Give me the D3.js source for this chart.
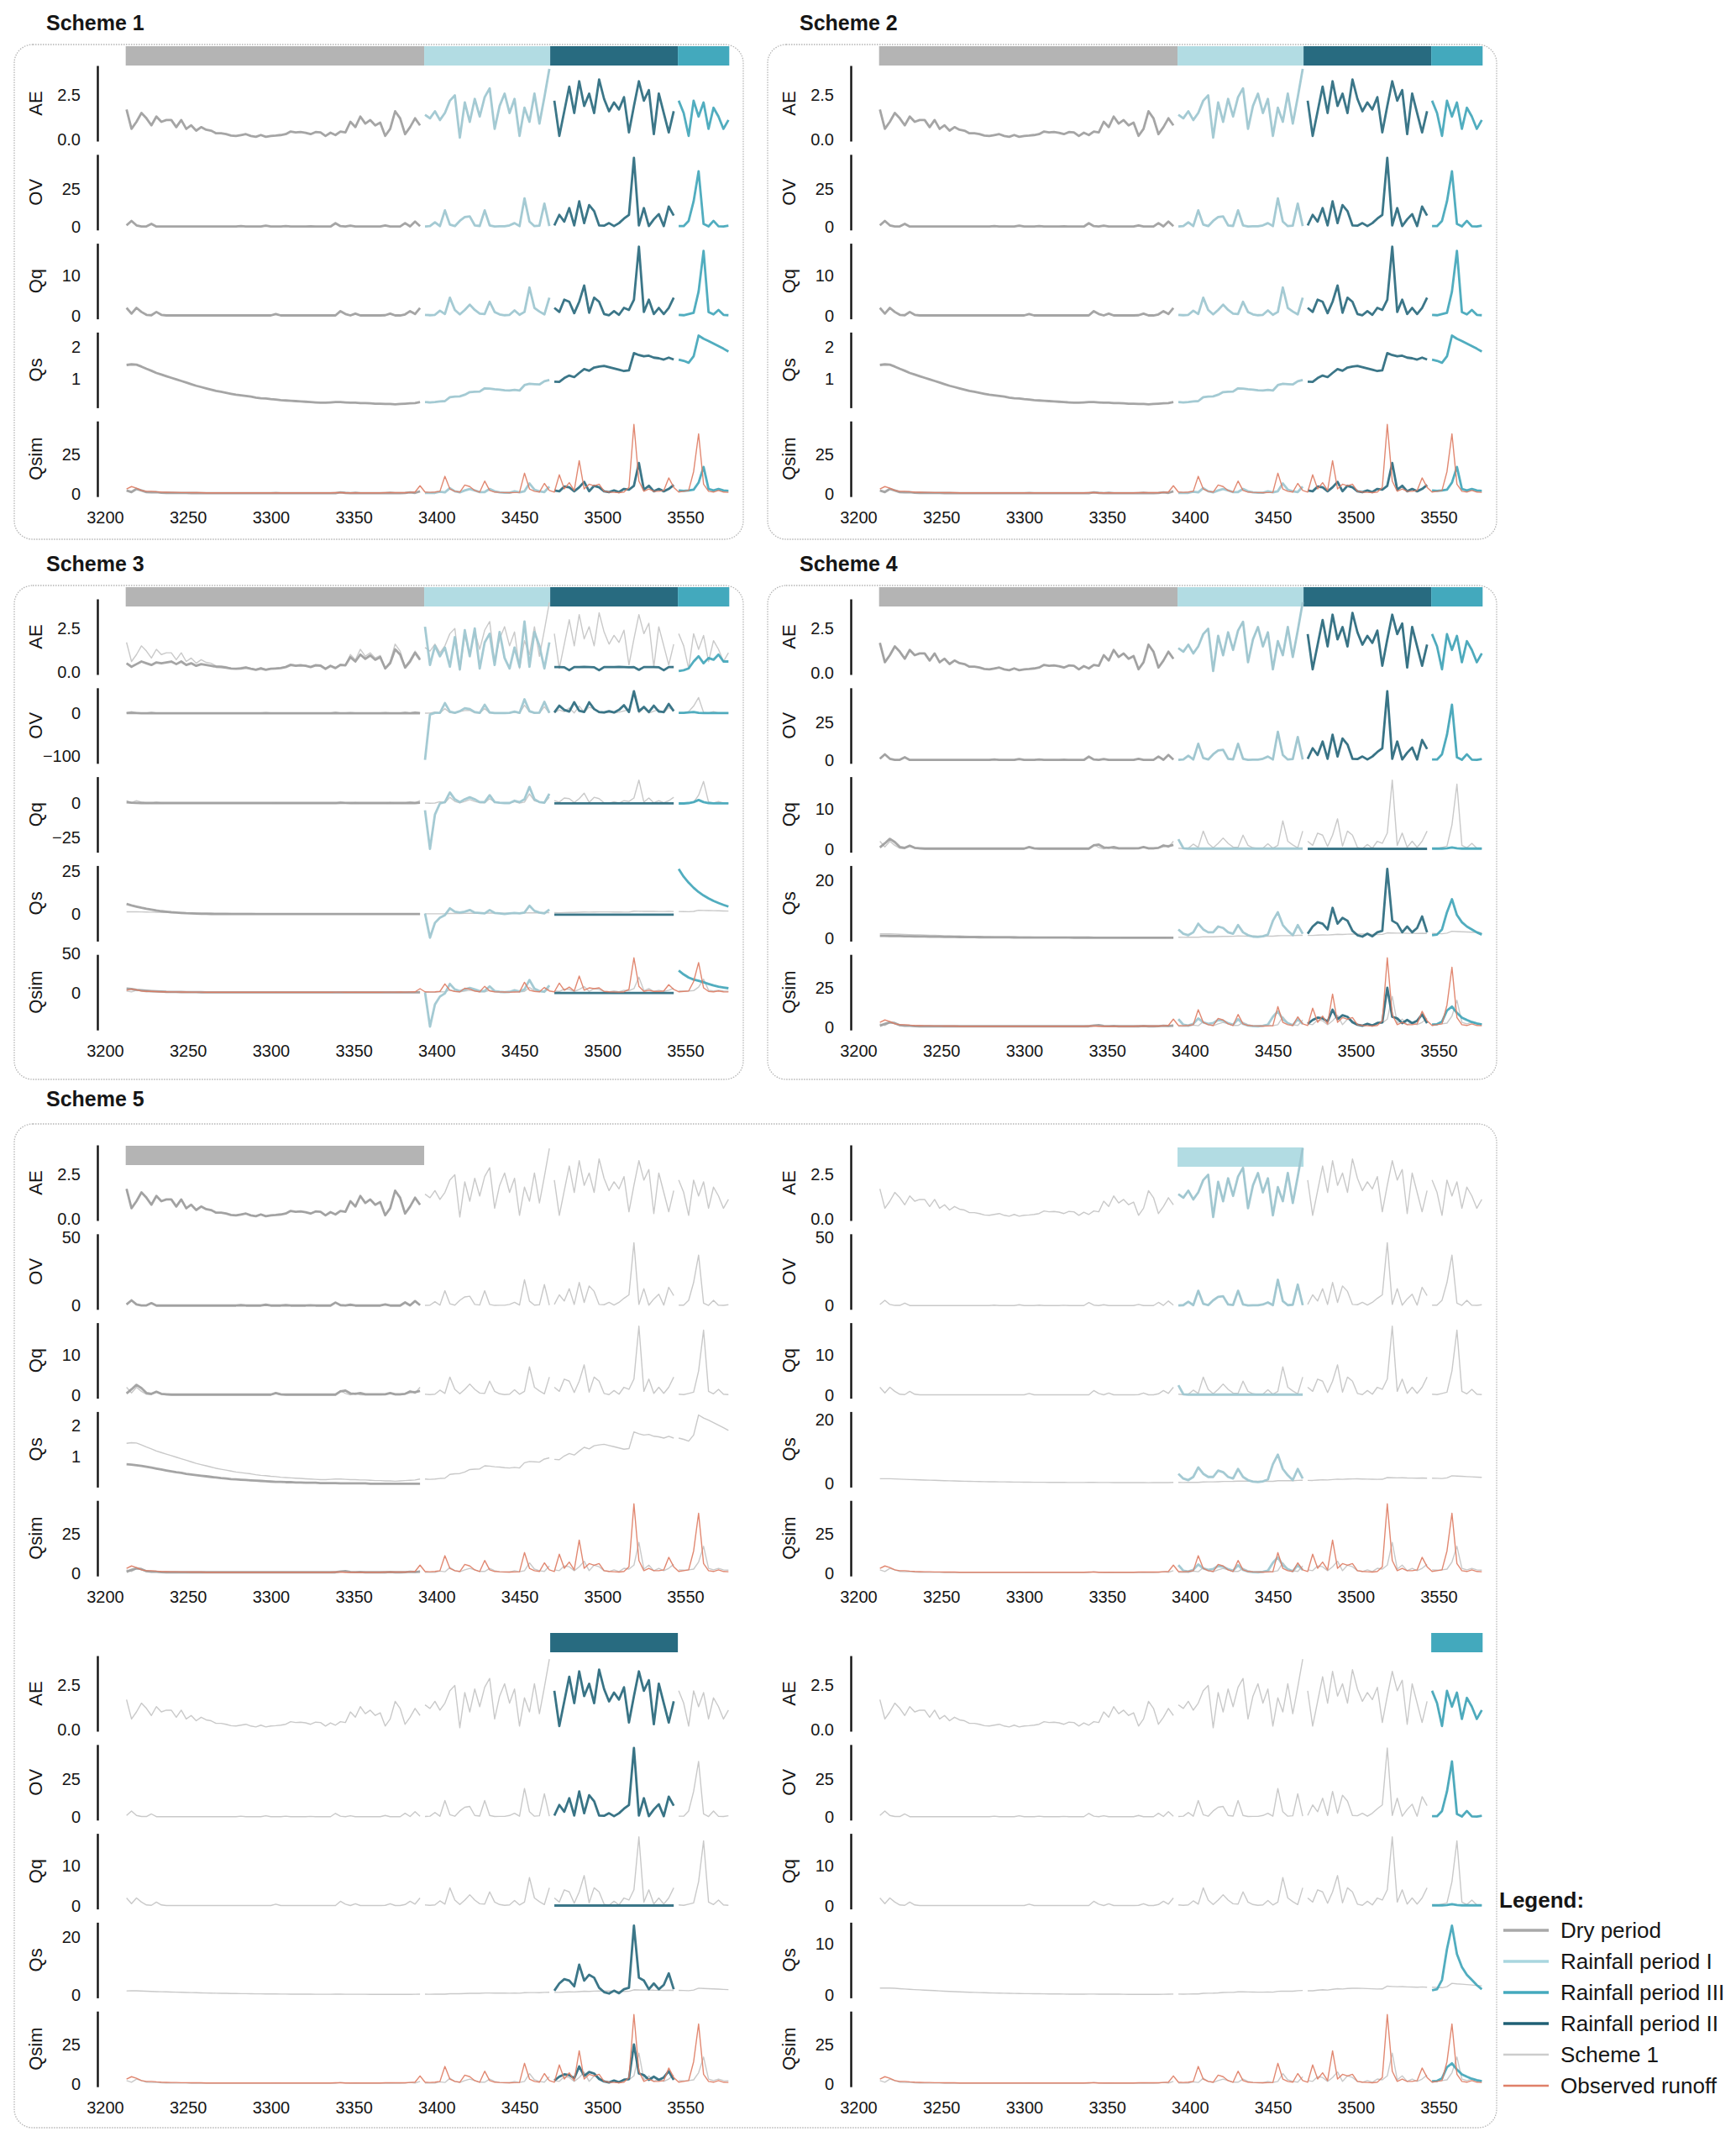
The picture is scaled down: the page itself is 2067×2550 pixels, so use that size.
<!DOCTYPE html>
<html>
<head>
<meta charset="utf-8">
<script src="https://cdn.jsdelivr.net/npm/d3@7"></script>
<style>
  body { margin: 0; background: #fff; }
  text { font-family: "Liberation Sans", Arial, sans-serif; fill: #161616; }
</style>
</head>
<body>
<div id="chart"></div>
<script>
// --- DATOS (muestreo cada 3 días) ---
const DAYS = d3.range(3213, 3577, 3);          // 122 puntos
const PERIOD_NAMES = ["Dry period", "Rainfall period I", "Rainfall period II", "Rainfall period III"];
const PERIOD_EDGES = [3212.5, 3392.5, 3468.5, 3545.5, 3576.5];
const X_TICKS = [3200, 3250, 3300, 3350, 3400, 3450, 3500, 3550];
const VAR_NAMES = ["AE", "OV", "Qq", "Qs", "Qsim"];

// Scheme 1 (también Scheme 2)
const AE1 = [1.7,0.6,1.0,1.5,1.2,0.8,1.3,1.0,1.1,1.1,
  0.7,1.1,0.6,0.8,0.5,0.7,0.55,0.5,0.35,0.35,
  0.3,0.22,0.2,0.25,0.3,0.2,0.15,0.25,0.15,0.2,
  0.22,0.25,0.3,0.45,0.4,0.42,0.38,0.3,0.42,0.4,
  0.2,0.38,0.25,0.45,0.4,1.0,0.7,1.3,0.9,1.1,
  0.8,0.95,0.2,0.6,1.6,1.2,0.3,0.7,1.2,0.8,
  1.4,1.2,1.6,1.1,1.5,2.2,2.5,0.1,2.1,1.0,
  2.3,1.3,2.4,2.9,0.6,1.9,2.6,1.5,2.3,0.2,
  1.8,1.0,2.6,0.9,2.4,4.0,
  2.2,0.2,1.6,3.0,1.5,3.3,1.9,2.6,1.5,3.4,
  2.3,1.6,2.1,1.7,2.4,0.4,1.9,3.3,2.2,2.8,
  0.3,2.6,1.5,0.4,1.6,
  2.2,1.5,0.2,2.2,1.3,2.1,0.6,1.8,1.3,0.6,1.1];
const OV1 = [1,4,1,0.3,0.3,2,0.2,0.2,0.2,0.2,
  0.2,0.2,0.2,0.2,0.2,0.2,0.2,0.2,0.2,0.2,
  0.2,0.2,0.2,0.5,0.2,0.2,0.2,0.2,0.8,0.2,
  0.2,0.2,0.5,0.2,0.2,0.2,0.2,0.4,0.2,0.2,
  0.2,0.2,2.4,0.5,0.2,0.8,0.2,0.2,0.2,0.2,
  0.2,0.2,1,0.2,0.2,0.2,2.5,0.3,3.5,0.5,
  0.3,0.5,3,0.5,11,1.5,0.5,4,6.5,7,
  1,0.6,11,1,0.3,0.4,0.4,1,2.5,0.5,
  19,3.5,0.5,0.8,15.5,0.5,
  1,8,3.5,12.5,1,17,2.5,14.5,10.5,1,
  0.8,2.5,0.5,2.5,5.5,8,46,1,12.5,0.5,
  5,8.5,0.5,13.5,7.5,
  0.5,0.5,4,17,37,2,0.3,4,0.4,0.3,0.8];
const QQ1 = [2,0.6,2,1,0.3,0.2,1,0.3,0.15,0.15,
  0.15,0.15,0.15,0.15,0.15,0.15,0.15,0.15,0.15,0.15,
  0.15,0.15,0.15,0.15,0.15,0.15,0.15,0.15,0.15,0.15,
  0.5,0.15,0.15,0.15,0.15,0.15,0.15,0.15,0.15,0.15,
  0.15,0.15,0.15,1.2,0.5,0.15,0.6,0.15,0.15,0.15,
  0.15,0.15,0.2,0.6,0.15,0.15,0.4,1.2,0.5,2,
  0.3,0.2,0.3,1.3,0.5,4.5,1.5,0.4,1.5,2.8,
  1.5,0.6,0.5,3.5,1,0.4,0.2,0.3,1.4,0.3,
  1,7,2,1.1,0.4,4.5,
  2,1,4,3.5,0.7,3.5,7.5,0.8,4.5,3.5,
  0.5,0.2,1.2,0.3,2,1.5,4,17,1,4,
  0.5,2,0.5,2,4.5,
  0.3,0.2,0.5,0.8,6,16,1,0.4,1.5,0.3,0.2];
const QS1 = [1.43,1.45,1.44,1.38,1.31,1.25,1.18,1.13,1.08,1.03,
  0.98,0.93,0.88,0.83,0.78,0.74,0.70,0.66,0.62,0.59,
  0.56,0.53,0.50,0.48,0.46,0.44,0.41,0.39,0.38,0.36,
  0.35,0.33,0.32,0.31,0.30,0.29,0.28,0.27,0.26,0.25,
  0.25,0.26,0.27,0.27,0.26,0.25,0.25,0.24,0.24,0.23,
  0.22,0.22,0.21,0.21,0.20,0.21,0.22,0.23,0.24,0.27,
  0.27,0.26,0.27,0.29,0.30,0.42,0.44,0.45,0.50,0.58,
  0.59,0.60,0.70,0.69,0.67,0.66,0.64,0.63,0.65,0.63,
  0.80,0.84,0.83,0.82,0.92,0.96,
  0.91,0.90,1.02,1.10,1.05,1.18,1.30,1.25,1.35,1.38,
  1.40,1.36,1.32,1.28,1.24,1.26,1.80,1.74,1.70,1.72,
  1.66,1.64,1.60,1.66,1.60,
  1.60,1.56,1.50,1.70,2.35,2.25,2.18,2.10,2.02,1.94,1.85];
const QSIM1 = [2,1,3,2,1,0.8,1,0.6,0.5,0.5,
  0.4,0.4,0.4,0.35,0.35,0.3,0.3,0.3,0.3,0.3,
  0.3,0.3,0.3,0.3,0.3,0.3,0.3,0.3,0.3,0.3,
  0.4,0.3,0.3,0.3,0.3,0.3,0.3,0.3,0.3,0.3,
  0.3,0.3,0.3,0.8,0.5,0.3,0.5,0.3,0.3,0.3,
  0.3,0.3,0.3,0.5,0.3,0.3,0.4,0.8,0.5,1.5,
  0.5,0.4,0.5,1.2,0.8,3.5,1.5,0.8,2,3,
  2,1,1,3,1.5,0.8,0.6,0.6,1.5,0.8,
  1.5,6.5,2.5,1.5,1,4.5,
  2,1.5,4.5,4,1.5,4,7.5,1.5,5,4,
  1.5,1,2,1,3,2.5,5,19.5,2.5,5,
  1.5,3,1.5,3,5.5,
  2,1.8,2,2.5,7,17,3,2,3,2,1.8];
const OBS = [3,4.5,3.5,2,1.5,1.5,1.2,1,0.9,0.8,
  0.8,0.7,0.7,0.6,0.6,0.6,0.5,0.5,0.5,0.5,
  0.5,0.5,0.5,0.5,0.5,0.5,0.5,0.5,0.5,0.5,
  0.5,0.5,0.5,0.5,0.5,0.5,0.5,0.5,0.5,0.5,
  0.5,0.5,0.6,0.6,0.5,0.5,0.5,0.5,0.5,0.5,
  0.5,0.5,0.6,0.6,0.6,0.7,0.6,0.8,1,5,
  1,0.8,1,1.5,11,3,1.5,1,5.5,4.5,
  2,1,8,2,1,0.8,0.7,0.6,0.7,0.8,
  13,3,1.5,1,6.5,2,
  1,12,3,7,2,21,3,6,5,6,
  1.5,1,0.8,0.6,1,4,44,8,1.5,3,
  1.5,1.5,2,10,4,
  1,1.5,2,14,38,6,1.5,1,2,1,0.8];

// Scheme 3
const AE3 = [0.5,0.3,0.45,0.6,0.5,0.4,0.55,0.5,0.55,0.6,
  0.45,0.6,0.4,0.5,0.35,0.45,0.4,0.35,0.3,0.28,
  0.25,0.2,0.18,0.2,0.25,0.18,0.12,0.2,0.12,0.18,
  0.2,0.22,0.28,0.4,0.35,0.38,0.35,0.28,0.38,0.36,
  0.18,0.35,0.22,0.4,0.38,0.85,0.6,1.0,0.75,0.95,
  0.7,0.85,0.2,0.5,1.3,1.0,0.25,0.6,1.1,0.7,
  2.6,0.4,1.5,0.9,1.4,0.3,2.0,0.15,2.4,0.9,
  2.5,0.2,1.7,2.2,0.4,2.3,0.8,0.2,1.4,0.3,
  2.9,0.3,2.3,1.5,0.2,1.7,
  0.28,0.28,0.27,0.1,0.28,0.28,0.29,0.28,0.27,0.1,
  0.28,0.28,0.28,0.29,0.28,0.27,0.28,0.12,0.28,0.28,
  0.28,0.27,0.1,0.28,0.28,
  0.05,0.1,0.2,0.6,0.9,0.5,0.8,0.7,1.0,0.6,0.6];
const OV3 = [0.4,0.8,0.4,0.2,0.2,0.4,0.2,0.2,0.2,0.2,
  0.2,0.2,0.2,0.2,0.2,0.2,0.2,0.2,0.2,0.2,
  0.2,0.2,0.2,0.2,0.2,0.2,0.2,0.2,0.3,0.2,
  0.2,0.2,0.2,0.2,0.2,0.2,0.2,0.2,0.2,0.2,
  0.2,0.2,0.6,0.2,0.2,0.3,0.2,0.2,0.2,0.2,
  0.2,0.2,0.3,0.2,0.2,0.2,0.6,0.2,0.8,0.3,
  -110,-3,1,1,24,4,1,5,12,10,
  3,1,20,2,0.5,0.5,0.5,1,4,1,
  33,5,1,1.5,27,1,
  2,18,8,4,26,6,3,26,10,3,
  2,5,2,8,19,3,52,5,15,3,
  18,4,3,22,5,
  1,1,2,3,1,0.5,0.5,0.5,0.5,0.5,0.5];
const QQ3 = [0.8,0.5,0.4,0.3,0.3,0.3,0.3,0.3,0.3,0.3,
  0.3,0.3,0.3,0.3,0.3,0.3,0.3,0.3,0.3,0.3,
  0.3,0.3,0.3,0.3,0.3,0.3,0.3,0.3,0.3,0.3,
  0.3,0.3,0.3,0.3,0.3,0.3,0.3,0.3,0.3,0.3,
  0.3,0.3,0.3,0.4,0.4,0.3,0.3,0.3,0.3,0.3,
  0.3,0.3,0.3,0.3,0.3,0.3,0.3,0.4,0.3,0.5,
  -5,-33,-8,0,1,8,3,1,3,4.5,
  3,1,1,6,1,0.5,0.3,0.3,2,1,
  3,12,3,1,0.5,7,
  0.05,0.05,0.05,0.05,0.05,0.05,0.05,0.05,0.05,0.05,
  0.05,0.05,0.05,0.05,0.05,0.05,0.05,0.05,0.05,0.05,
  0.05,0.05,0.05,0.05,0.05,
  0,0,0.3,1,2.5,1,0.3,0.1,0.1,0.1,0.1];
const QS3 = [6.0,5.2,4.5,3.8,3.2,2.7,2.2,1.8,1.5,1.2,
  1.0,0.8,0.6,0.5,0.4,0.3,0.25,0.2,0.15,0.12,
  0.1,0.1,0.1,0.1,0.1,0.1,0.1,0.1,0.1,0.1,
  0.1,0.1,0.1,0.1,0.1,0.1,0.1,0.1,0.1,0.1,
  0.1,0.1,0.1,0.1,0.1,0.1,0.1,0.1,0.1,0.1,
  0.1,0.1,0.1,0.1,0.1,0.1,0.1,0.1,0.1,0.1,
  0.5,-13.7,-5,-2,-0.5,3.5,1.5,1,1.5,2.5,
  1,0.8,0.5,2.5,0.8,0.5,0.2,0.5,0.8,0.5,
  1,5,2,1,0.5,2.8,
  -0.2,-0.2,-0.2,-0.2,-0.2,-0.2,-0.2,-0.2,-0.2,-0.2,
  -0.2,-0.2,-0.2,-0.2,-0.2,-0.2,-0.2,-0.2,-0.2,-0.2,
  -0.2,-0.2,-0.2,-0.2,-0.2,
  26.5,22,18.5,15.5,13,11,9.3,7.8,6.6,5.5,4.5];
const QSIM3 = [5,4.5,3.5,3,2.5,2,1.6,1.3,1,0.9,
  0.8,0.7,0.6,0.55,0.5,0.45,0.4,0.4,0.35,0.35,
  0.3,0.3,0.3,0.3,0.3,0.3,0.3,0.3,0.3,0.3,
  0.3,0.3,0.3,0.3,0.3,0.3,0.3,0.3,0.3,0.3,
  0.3,0.3,0.3,0.3,0.3,0.3,0.3,0.3,0.3,0.3,
  0.3,0.3,0.3,0.3,0.3,0.3,0.3,0.3,0.3,0.4,
  0.5,-43,-15,-5,-1,11,4,2,4,6,
  4,2,2,8,2,1,0.5,1,3,1.5,
  4,16,5,2,1,9,
  -0.5,-0.5,-0.5,-0.5,-0.5,-0.5,-0.5,-0.5,-0.5,-0.5,
  -0.5,-0.5,-0.5,-0.5,-0.5,-0.5,-0.5,-0.5,-0.5,-0.5,
  -0.5,-0.5,-0.5,-0.5,-0.5,
  28,23,19,16.5,15,13,11,9,7.5,6.5,5.5];

// Scheme 4 y Scheme 5 (Qq, Qs, Qsim)
const QQB = [0.5,1.5,2.6,1.8,0.6,0.4,0.9,0.4,0.3,0.2,
  0.2,0.2,0.2,0.2,0.2,0.2,0.2,0.2,0.2,0.2,
  0.2,0.2,0.2,0.2,0.2,0.2,0.2,0.2,0.2,0.2,
  0.6,0.3,0.2,0.2,0.2,0.2,0.2,0.2,0.2,0.2,
  0.2,0.2,0.2,1.0,1.2,0.5,0.4,0.6,0.3,0.3,
  0.3,0.3,0.3,0.6,0.3,0.3,0.4,0.9,0.8,1.1,
  2.5,0.3,0.2,0.2,0.2,0.2,0.2,0.2,0.2,0.2,
  0.2,0.2,0.2,0.2,0.2,0.2,0.2,0.2,0.2,0.2,
  0.2,0.2,0.2,0.2,0.2,0.2,
  0.15,0.15,0.15,0.15,0.15,0.15,0.15,0.15,0.15,0.15,
  0.15,0.15,0.15,0.15,0.15,0.15,0.15,0.15,0.15,0.15,
  0.15,0.15,0.15,0.15,0.15,
  0.2,0.2,0.2,0.3,0.5,0.3,0.2,0.2,0.2,0.2,0.2];
const QSB = [0.75,0.74,0.72,0.70,0.67,0.64,0.61,0.58,0.55,0.52,
  0.49,0.47,0.44,0.42,0.40,0.38,0.36,0.34,0.32,0.30,
  0.29,0.27,0.26,0.25,0.24,0.23,0.22,0.21,0.20,0.19,
  0.18,0.18,0.17,0.17,0.16,0.16,0.15,0.15,0.15,0.14,
  0.14,0.14,0.14,0.13,0.13,0.13,0.13,0.13,0.13,0.12,
  0.12,0.12,0.12,0.12,0.12,0.12,0.12,0.12,0.12,0.12,
  3,1.5,1,2,5,3,2,2,4,3.5,
  2,1.5,4.5,2,1,0.5,0.4,0.6,1.2,6,
  9,4.5,2.5,1,4.5,1.5,
  1.5,4,5.5,5,3,10.5,5,7,6,2.5,
  1,0.5,1.5,0.6,2,2.5,24,6,5,2,
  4,2,3.5,7.5,2,
  1,1.2,3,9,13.5,8,5.5,4,3,2,1.2];
const QSIMB = [0.8,2,3,2.5,1.2,0.8,0.8,0.6,0.5,0.5,
  0.5,0.5,0.5,0.5,0.5,0.5,0.5,0.5,0.5,0.5,
  0.5,0.5,0.5,0.5,0.5,0.5,0.5,0.5,0.5,0.5,
  0.6,0.5,0.5,0.5,0.5,0.5,0.5,0.5,0.5,0.5,
  0.5,0.5,0.5,1,1.2,0.7,0.6,0.7,0.5,0.5,
  0.5,0.5,0.5,0.7,0.5,0.5,0.6,0.8,0.7,0.8,
  5,1.5,1,2,5.5,3,2,2.5,4.5,4,
  2.5,1.5,5,2,1,0.6,0.5,0.8,1.5,6.5,
  10,5,2.5,1.2,5,2,
  2,4.5,6,5.5,3.5,11,5,7.5,6.5,3,
  1.5,0.8,2,1,2.5,3,25,6.5,5.5,2.5,
  4.5,2.5,4,8,2.5,
  1.5,1.8,3.5,10.5,13,9,6,4.5,3.2,2.3,1.6];

// Marcas del eje Y por esquema
const TICKS_S12 = { AE: [0, 2.5], OV: [0, 25], Qq: [0, 10], Qs: [1, 2], Qsim: [0, 25] };
const TICKS_S3 = { AE: [0, 2.5], OV: [-100, 0], Qq: [-25, 0], Qs: [0, 25], Qsim: [0, 50] };
const TICKS_S4 = { AE: [0, 2.5], OV: [0, 25], Qq: [0, 10], Qs: [0, 20], Qsim: [0, 25] };
const TICKS_S5_DRY = { AE: [0, 2.5], OV: [0, 50], Qq: [0, 10], Qs: [1, 2], Qsim: [0, 25] };
const TICKS_S5_I = { AE: [0, 2.5], OV: [0, 50], Qq: [0, 10], Qs: [0, 20], Qsim: [0, 25] };
const TICKS_S5_II = { AE: [0, 2.5], OV: [0, 25], Qq: [0, 10], Qs: [0, 20], Qsim: [0, 25] };
const TICKS_S5_III = { AE: [0, 2.5], OV: [0, 25], Qq: [0, 10], Qs: [0, 10], Qsim: [0, 25] };

const LEGEND_LABELS = ["Dry period", "Rainfall period I", "Rainfall period III", "Rainfall period II", "Scheme 1", "Observed runoff"];

// --- ESTILOS / LAYOUT ---
const W = 2067, H = 2550;
const LINE_COLORS = ["#9d9d9d", "#9cc6cf", "#2a6a7e", "#42a6ba"];
const BAR_COLORS = ["#b4b4b4", "#b2dce3", "#286b80", "#43a9bd"];
const REF_COLOR = "#c9c9c9", OBS_COLOR = "#de7b62";
const COL_SHIFT = 897;
const SUB_PITCH = 105.8, SUB_H = 90, BAR_H = 23;

const SCHEME1 = { AE: AE1, OV: OV1, Qq: QQ1, Qs: QS1, Qsim: QSIM1 };
const SCHEME3 = { AE: AE3, OV: OV3, Qq: QQ3, Qs: QS3, Qsim: QSIM3 };
const SCHEME45 = { AE: AE1, OV: OV1, Qq: QQB, Qs: QSB, Qsim: QSIMB };

const panels = [
  { col: 0, top: 78, barTop: 55, scheme: SCHEME1, ref: false, show: [0, 1, 2, 3], ticks: TICKS_S12 },
  { col: 1, top: 78, barTop: 55, scheme: SCHEME1, ref: false, show: [0, 1, 2, 3], ticks: TICKS_S12 },
  { col: 0, top: 713, barTop: 699, scheme: SCHEME3, ref: true, show: [0, 1, 2, 3], ticks: TICKS_S3 },
  { col: 1, top: 713, barTop: 699, scheme: SCHEME45, ref: true, show: [0, 1, 2, 3], ticks: TICKS_S4 },
  { col: 0, top: 1363, barTop: 1364, scheme: SCHEME45, ref: true, show: [0], ticks: TICKS_S5_DRY, domains: { OV: [-2.6, 52.5] } },
  { col: 1, top: 1363, barTop: 1366, scheme: SCHEME45, ref: true, show: [1], ticks: TICKS_S5_I, domains: { OV: [-2.6, 52.5], Qs: [-1.2, 22.5] } },
  { col: 0, top: 1971, barTop: 1944, scheme: SCHEME45, ref: true, show: [2], ticks: TICKS_S5_II },
  { col: 1, top: 1971, barTop: 1944, scheme: SCHEME45, ref: true, show: [3], ticks: TICKS_S5_III }
];

const boxes = [
  { x: 17, y: 53, w: 868, h: 589 }, { x: 914, y: 53, w: 868, h: 589 },
  { x: 17, y: 697, w: 868, h: 588 }, { x: 914, y: 697, w: 868, h: 588 },
  { x: 17, y: 1338, w: 1765, h: 1195 }
];
const titles = [
  { text: "Scheme 1", x: 55, y: 36 }, { text: "Scheme 2", x: 952, y: 36 },
  { text: "Scheme 3", x: 55, y: 680 }, { text: "Scheme 4", x: 952, y: 680 },
  { text: "Scheme 5", x: 55, y: 1317 }
];

// periodo de cada punto
const POINTS = DAYS.map((day, i) => {
  let period = -1;
  for (let j = 0; j < 4; j++) if (day >= PERIOD_EDGES[j] && day < PERIOD_EDGES[j + 1]) period = j;
  return { day, i, period };
});
const pts = (values, p) => POINTS.filter(o => p === undefined || o.period === p).map(o => ({ day: o.day, v: values[o.i] }));

// --- SVG ---
const svg = d3.select("#chart").append("svg").attr("width", W).attr("height", H);
svg.append("rect").attr("width", W).attr("height", H).attr("fill", "#fff");

svg.selectAll(".box").data(boxes).enter().append("rect")
  .attr("class", "box")
  .attr("x", d => d.x).attr("y", d => d.y).attr("width", d => d.w).attr("height", d => d.h)
  .attr("rx", 22).attr("fill", "none")
  .attr("stroke", "#b5b5b5").attr("stroke-width", 1.3).attr("stroke-dasharray", "1.5,1.5");

svg.selectAll(".title").data(titles).enter().append("text")
  .attr("x", d => d.x).attr("y", d => d.y)
  .attr("font-size", 25).attr("font-weight", "bold").text(d => d.text);

panels.forEach(drawPanel);

function drawPanel(cfg) {
  const shift = cfg.col * COL_SHIFT;
  const x = d3.scaleLinear().domain([3200, 3550]).range([125 + shift, 816 + shift]);
  const axisX = 116 + shift;
  const g = svg.append("g");

  // barra de periodos
  g.selectAll(".bar").data(cfg.show).enter().append("rect")
    .attr("x", p => x(PERIOD_EDGES[p]))
    .attr("width", p => x(PERIOD_EDGES[p + 1]) - x(PERIOD_EDGES[p]))
    .attr("y", cfg.barTop).attr("height", BAR_H)
    .attr("fill", p => BAR_COLORS[p]);

  VAR_NAMES.forEach((name, k) => {
    const top = cfg.top + k * SUB_PITCH;
    const series = cfg.scheme[name];
    const vals = [];
    cfg.show.forEach(p => pts(series, p).forEach(o => vals.push(o.v)));
    if (cfg.ref) SCHEME1[name].forEach(v => vals.push(v));
    if (name === "Qsim") OBS.forEach(v => vals.push(v));
    const [lo, hi] = d3.extent(vals);
    const pad = (hi - lo) * 0.05;
    const dom = (cfg.domains && cfg.domains[name]) || [lo - pad, hi + pad];
    const y = d3.scaleLinear().domain(dom).range([top + SUB_H, top]);
    const line = d3.line().x(o => x(o.day)).y(o => y(o.v));

    if (cfg.ref) {
      [0, 1, 2, 3].forEach(p => {
        g.append("path").datum(pts(SCHEME1[name], p)).attr("d", line)
          .attr("fill", "none").attr("stroke", REF_COLOR).attr("stroke-width", 1.4)
          .attr("stroke-linejoin", "round");
      });
    }
    cfg.show.forEach(p => {
      g.append("path").datum(pts(series, p)).attr("d", line)
        .attr("fill", "none").attr("stroke", LINE_COLORS[p]).attr("stroke-width", 2.8)
        .attr("stroke-opacity", 0.92).attr("stroke-linejoin", "round");
    });
    if (name === "Qsim") {
      g.append("path").datum(pts(OBS)).attr("d", line)
        .attr("fill", "none").attr("stroke", OBS_COLOR).attr("stroke-width", 1.4)
        .attr("stroke-opacity", 0.9).attr("stroke-linejoin", "round");
    }

    const fmt = name === "AE" ? d3.format(".1f") : d3.format("d");
    const ax = g.append("g").attr("transform", `translate(${axisX},0)`)
      .call(d3.axisLeft(y).tickValues(cfg.ticks[name]).tickSizeInner(0).tickSizeOuter(0).tickPadding(20).tickFormat(fmt));
    ax.select(".domain").attr("stroke", "#111").attr("stroke-width", 2.4);
    ax.selectAll("text").attr("font-size", 20).attr("font-family", "Liberation Sans, Arial, sans-serif").attr("fill", "#161616");

    g.append("text")
      .attr("transform", `translate(${axisX - 74},${top + SUB_H / 2}) rotate(-90)`)
      .attr("text-anchor", "middle").attr("dominant-baseline", "central")
      .attr("font-size", 22).text(name);
  });

  const xa = g.append("g").attr("transform", `translate(0,${cfg.top + 528})`)
    .call(d3.axisBottom(x).tickValues(X_TICKS).tickSize(0).tickPadding(3).tickFormat(d3.format("d")));
  xa.select(".domain").remove();
  xa.selectAll("text").attr("font-size", 20).attr("font-family", "Liberation Sans, Arial, sans-serif").attr("fill", "#161616");
}

// --- LEYENDA ---
const LEGEND_COLORS = ["#a9a9a9", "#a9d6df", "#44a9bd", "#1f6075", "#cdcdcd", "#df8069"];
const LEGEND_WIDTHS = [3.4, 3.4, 3.4, 3.4, 2.4, 2.4];
const leg = svg.append("g").attr("transform", "translate(1785,2262)");
leg.append("text").attr("x", 0).attr("y", 0).attr("dominant-baseline", "central")
  .attr("font-size", 26).attr("font-weight", "bold").text("Legend:");
const items = leg.selectAll(".item").data(LEGEND_LABELS).enter().append("g")
  .attr("transform", (d, i) => `translate(0,${36 + i * 37})`);
items.append("line").attr("x1", 5).attr("x2", 59).attr("y1", 0).attr("y2", 0)
  .attr("stroke", (d, i) => LEGEND_COLORS[i]).attr("stroke-width", (d, i) => LEGEND_WIDTHS[i]);
items.append("text").attr("x", 73).attr("y", 0).attr("dominant-baseline", "central")
  .attr("font-size", 26).text(d => d);
</script>
</body>
</html>
